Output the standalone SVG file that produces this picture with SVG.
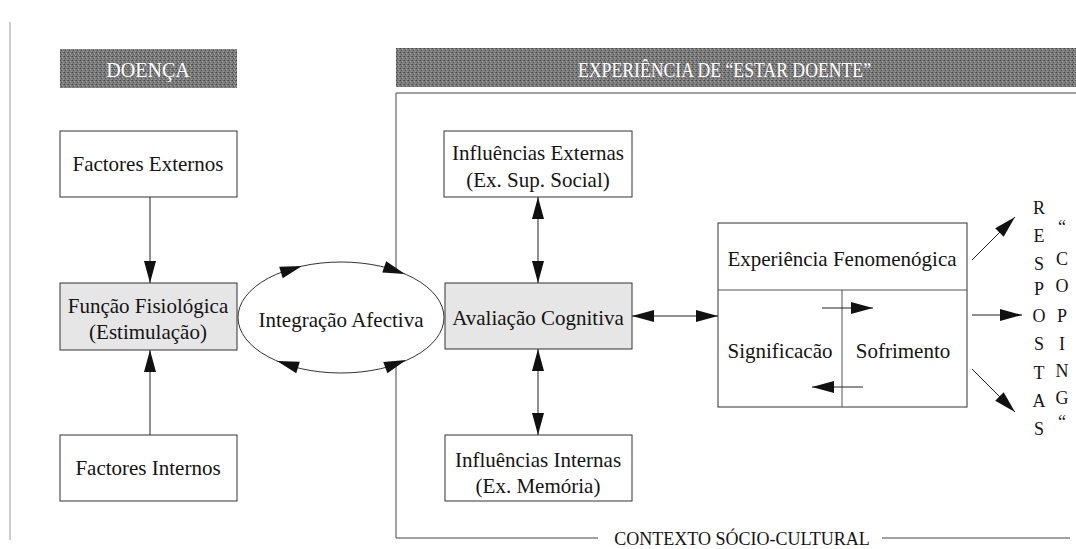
<svg xmlns="http://www.w3.org/2000/svg" width="1076" height="549" viewBox="0 0 1076 549">
<style>
text{font-family:"Liberation Serif","Times New Roman",serif}
.t{font-size:21px;fill:#141414;text-anchor:middle}
.s{font-size:18px}
.ban{font-size:20px;fill:#fff}
.box{fill:#fff;stroke:#333;stroke-width:1}
.gbox{fill:#e6e6e6;stroke:#333;stroke-width:1}
.ln{stroke:#222;stroke-width:1;fill:none}
.frame{stroke:#444;stroke-width:1;fill:none}
</style>
<defs>
<marker id="ah" viewBox="0 0 22 12" markerWidth="22" markerHeight="12" refX="22" refY="6" markerUnits="userSpaceOnUse" orient="auto-start-reverse">
<path d="M0,0 L22,6 L0,12 z" fill="#111"/>
</marker>
<path id="head" d="M-22,-6 L0,0 L-22,6 z" fill="#111"/>
<pattern id="grain" width="4" height="4" patternUnits="userSpaceOnUse">
<rect width="4" height="4" fill="#7c7c7c"/>
<rect x="0" y="0" width="1" height="1" fill="#444"/>
<rect x="2" y="1" width="1" height="1" fill="#a8a8a8"/>
<rect x="1" y="2" width="1" height="1" fill="#555"/>
<rect x="3" y="3" width="1" height="1" fill="#9c9c9c"/>
<rect x="3" y="0" width="1" height="1" fill="#5c5c5c"/>
</pattern>
</defs>

<line x1="10" y1="22" x2="10" y2="540" stroke="#999" stroke-width="1"/>

<g id="banner-doenca">
<rect x="60" y="49" width="177" height="39" fill="url(#grain)"/>
<text class="ban" x="148" y="77" text-anchor="middle" font-family="Liberation Serif, serif">DOENÇA</text>
</g>
<g id="banner-experiencia">
<rect x="396" y="48" width="680" height="39" fill="url(#grain)"/>
<text class="ban" x="578" y="77" textLength="293" lengthAdjust="spacingAndGlyphs" font-family="Liberation Serif, serif">EXPERIÊNCIA DE “ESTAR DOENTE”</text>
</g>

<g id="contexto">
<polyline class="frame" points="1076,93 396,93 396,271"/>
<polyline class="frame" points="396,364 396,538 598,538"/>
<line class="frame" x1="882" y1="538" x2="1070" y2="538"/>
<text class="t s" x="742" y="545" font-family="Liberation Serif, serif">CONTEXTO SÓCIO-CULTURAL</text>
</g>

<g id="factores-externos" font-family="Liberation Serif, serif">
<rect class="box" x="60" y="131" width="177" height="66"/>
<text class="t" x="148" y="171">Factores Externos</text>
</g>
<g id="funcao-fisiologica" font-family="Liberation Serif, serif">
<rect class="gbox" x="60" y="283" width="177" height="67"/>
<text class="t" x="148" y="313">Função Fisiológica</text>
<text class="t" x="148" y="339">(Estimulação)</text>
</g>
<g id="factores-internos" font-family="Liberation Serif, serif">
<rect class="box" x="60" y="435" width="177" height="66"/>
<text class="t" x="148" y="475">Factores Internos</text>
</g>

<g id="integracao-afectiva" font-family="Liberation Serif, serif">
<ellipse cx="341" cy="317.5" rx="103" ry="55.5" fill="#fff" stroke="#333" stroke-width="1"/>
<text class="t" x="341" y="327">Integração Afectiva</text>
</g>

<g id="influencias-externas" font-family="Liberation Serif, serif">
<rect class="box" x="444" y="131" width="188" height="66"/>
<text class="t" x="538" y="160">Influências Externas</text>
<text class="t" x="538" y="187">(Ex. Sup. Social)</text>
</g>
<g id="avaliacao-cognitiva" font-family="Liberation Serif, serif">
<rect class="gbox" x="445" y="283" width="187" height="66"/>
<text class="t" x="538" y="325">Avaliação Cognitiva</text>
</g>
<g id="influencias-internas" font-family="Liberation Serif, serif">
<rect class="box" x="445" y="435" width="187" height="66"/>
<text class="t" x="538" y="467">Influências Internas</text>
<text class="t" x="538" y="493">(Ex. Memória)</text>
</g>

<g id="experiencia-fenomenogica" font-family="Liberation Serif, serif">
<rect class="box" x="718" y="223" width="249" height="184"/>
<line x1="718" y1="290" x2="967" y2="290" stroke="#555" stroke-width="1"/>
<text class="t" x="842" y="266">Experiência Fenomenógica</text>
</g>
<g id="significacao" font-family="Liberation Serif, serif">
<line x1="842" y1="290" x2="842" y2="407" stroke="#555" stroke-width="1"/>
<text class="t" x="780" y="358">Significacão</text>
</g>
<g id="sofrimento" font-family="Liberation Serif, serif">
<text class="t" x="903" y="358">Sofrimento</text>
</g>

<g id="respostas-coping" font-family="Liberation Serif, serif">
<text class="t s" x="1039" y="214">R</text>
<text class="t s" x="1039" y="242">E</text>
<text class="t s" x="1039" y="270">S</text>
<text class="t s" x="1039" y="295">P</text>
<text class="t s" x="1039" y="322">O</text>
<text class="t s" x="1039" y="350">S</text>
<text class="t s" x="1039" y="379">T</text>
<text class="t s" x="1039" y="407">A</text>
<text class="t s" x="1039" y="435">S</text>
<text class="t s" x="1062" y="233">“</text>
<text class="t s" x="1062" y="265">C</text>
<text class="t s" x="1062" y="292">O</text>
<text class="t s" x="1062" y="322">P</text>
<text class="t s" x="1062" y="350">I</text>
<text class="t s" x="1062" y="377">N</text>
<text class="t s" x="1062" y="404">G</text>
<text class="t s" x="1062" y="428">“</text>
</g>

<g id="connectors">
<line class="ln" x1="150" y1="197" x2="150" y2="283" marker-end="url(#ah)"/>
<line class="ln" x1="150" y1="435" x2="150" y2="350" marker-end="url(#ah)"/>
<line class="ln" x1="538" y1="197" x2="538" y2="283" marker-start="url(#ah)" marker-end="url(#ah)"/>
<line class="ln" x1="538" y1="349" x2="538" y2="435" marker-start="url(#ah)" marker-end="url(#ah)"/>
<line class="ln" x1="632" y1="316" x2="718" y2="316" marker-start="url(#ah)" marker-end="url(#ah)"/>
<line class="ln" x1="822" y1="308" x2="873" y2="308" marker-end="url(#ah)"/>
<line class="ln" x1="863" y1="387" x2="812" y2="387" marker-end="url(#ah)"/>
<line class="ln" x1="972" y1="260" x2="1015" y2="217" marker-end="url(#ah)"/>
<line class="ln" x1="972" y1="315" x2="1022" y2="315" marker-end="url(#ah)"/>
<line class="ln" x1="972" y1="369" x2="1015" y2="412" marker-end="url(#ah)"/>
<use href="#head" transform="translate(302,266) rotate(-17)"/>
<use href="#head" transform="translate(405,274) rotate(19)"/>
<use href="#head" transform="translate(406,360) rotate(-20)"/>
<use href="#head" transform="translate(277,361) rotate(197)"/>
</g>
</svg>
